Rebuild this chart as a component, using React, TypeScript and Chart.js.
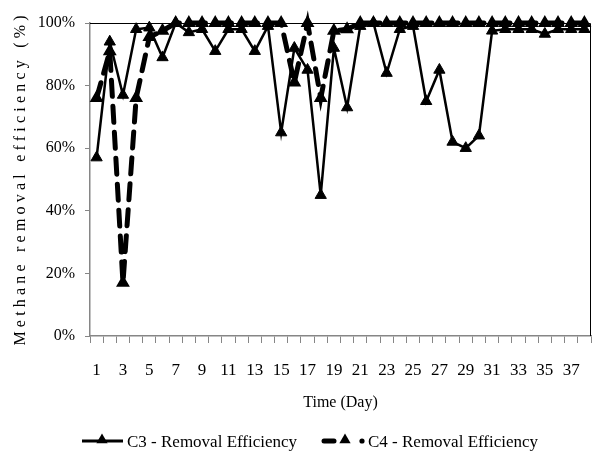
import React, { useEffect, useRef } from 'react';
import { Chart, registerables } from 'chart.js';

Chart.register(...registerables);

const days = ['1','2','3','4','5','6','7','8','9','10','11','12','13','14','15','16','17','18','19','20','21','22','23','24','25','26','27','28','29','30','31','32','33','34','35','36','37','38'];

const c3Values = [57, 94, 77, 98, 98.5, 89, 100, 97, 98, 91, 98, 98, 91, 99, 65, 92, 85, 45, 92, 73, 99, 100, 84, 98, 99, 75, 85, 62, 60, 64, 97.5, 98, 98, 98, 96.5, 98, 98, 98];

const c4Values = [76, 91, 17, 76, 95.5, 97.5, 100, 100, 100, 100, 100, 100, 100, 100, 100, 81, 100, 76, 97.5, 98, 100, 100, 100, 100, 100, 100, 100, 100, 100, 100, 100, 100, 100, 100, 100, 100, 100, 100];

const yTicks = [0, 20, 40, 60, 80, 100];

const seriesNames = ['C3 - Removal Efficiency', 'C4 - Removal Efficiency'];
const xTitle = 'Time (Day)';
const yTitle = 'Methane removal efficiency (%)';

const FONT = "'Liberation Serif', 'Times New Roman', serif";
const AXIS_GRAY = '#868686';

function tri(ctx: CanvasRenderingContext2D, x: number, y: number, r: number) {
  ctx.beginPath();
  ctx.moveTo(x, y - r);
  ctx.lineTo(x + r * Math.sin((2 * Math.PI) / 3), y - r * Math.cos((2 * Math.PI) / 3));
  ctx.lineTo(x + r * Math.sin((4 * Math.PI) / 3), y - r * Math.cos((4 * Math.PI) / 3));
  ctx.closePath();
  ctx.fill();
}

const decorPlugin = {
  id: 'decor',
  afterDraw(chart: any) {
    const ctx: CanvasRenderingContext2D = chart.ctx;
    const { left, right, top, bottom } = chart.chartArea;
    ctx.save();
    // plot border top & right
    ctx.strokeStyle = '#000';
    ctx.lineWidth = 1;
    ctx.beginPath();
    ctx.moveTo(left, top + 0.5);
    ctx.lineTo(right - 0.5, top + 0.5);
    ctx.lineTo(right - 0.5, bottom);
    ctx.stroke();

    // y title with letter spacing
    ctx.fillStyle = '#000';
    ctx.font = `16px ${FONT}`;
    const plain = ctx.measureText(yTitle).width;
    const targetLen = 330;
    const spacing = Math.max(0, (targetLen - plain) / (yTitle.length - 1));
    (ctx as any).letterSpacing = `${spacing.toFixed(2)}px`;
    ctx.translate(21, (top + bottom) / 2 + 1);
    ctx.rotate(-Math.PI / 2);
    ctx.textAlign = 'center';
    ctx.textBaseline = 'middle';
    ctx.fillText(yTitle, spacing / 2, 0);
    ctx.restore();

    // legend
    ctx.save();
    const ly = 441;
    ctx.fillStyle = '#000';
    ctx.strokeStyle = '#000';
    ctx.lineCap = 'butt';
    ctx.lineWidth = 3;
    ctx.beginPath();
    ctx.moveTo(82, ly);
    ctx.lineTo(123, ly);
    ctx.stroke();
    tri(ctx, 102, ly - 1, 6.5);

    ctx.lineCap = 'round';
    ctx.lineWidth = 5;
    ctx.beginPath();
    ctx.moveTo(324, ly);
    ctx.lineTo(334, ly);
    ctx.stroke();
    tri(ctx, 345, ly - 1, 6.5);
    ctx.beginPath();
    ctx.arc(362, ly, 2.6, 0, Math.PI * 2);
    ctx.fill();

    ctx.font = `17px ${FONT}`;
    ctx.textAlign = 'left';
    ctx.textBaseline = 'middle';
    ctx.fillText(seriesNames[0], 127, ly + 2);
    ctx.fillText(seriesNames[1], 368, ly + 2);
    ctx.restore();
  },
};

export default function App() {
  const ref = useRef<HTMLCanvasElement | null>(null);

  useEffect(() => {
    if (!ref.current) return;
    Chart.defaults.font.family = FONT;
    Chart.defaults.color = '#000';
    const chart = new Chart(ref.current, {
      type: 'line',
      data: {
        labels: days,
        datasets: [
          {
            label: seriesNames[0],
            data: c3Values,
            borderColor: '#000',
            backgroundColor: '#000',
            borderWidth: 2.5,
            pointStyle: 'triangle',
            pointRadius: 6.5,
            pointBackgroundColor: '#000',
            pointBorderColor: '#000',
            pointBorderWidth: 1,
            tension: 0,
            clip: false as any,
          },
          {
            label: seriesNames[1],
            data: c4Values,
            borderColor: '#000',
            backgroundColor: '#000',
            borderWidth: 5,
            borderDash: [16, 10],
            borderCapStyle: 'round',
            pointStyle: 'triangle',
            pointRadius: 6.5,
            pointBackgroundColor: '#000',
            pointBorderColor: '#000',
            pointBorderWidth: 1.5,
            tension: 0,
            clip: false as any,
          },
        ],
      },
      options: {
        animation: false,
        responsive: true,
        maintainAspectRatio: false,
        layout: { autoPadding: false, padding: { top: 23, right: 1, bottom: 38, left: 0 } },
        plugins: {
          legend: { display: false },
          tooltip: { enabled: false },
        },
        scales: {
          x: {
            type: 'category',
            offset: true,
            grid: {
              display: true,
              drawOnChartArea: false,
              drawTicks: true,
              tickLength: 7,
              color: AXIS_GRAY,
              offset: true,
            },
            border: { display: true, color: AXIS_GRAY, width: 1.5 },
            ticks: {
              autoSkip: false,
              maxRotation: 0,
              minRotation: 0,
              padding: 17,
              color: '#000',
              font: { size: 17, family: FONT },
              callback: (_v: any, i: number) => (i % 2 === 0 ? days[i] : ''),
            },
            title: {
              display: true,
              text: xTitle,
              color: '#000',
              font: { size: 16, family: FONT },
              padding: { top: 0, bottom: 4 },
            },
            afterFit: (scale: any) => {
              scale.height = 80;
              scale.paddingLeft = 0;
              scale.paddingRight = 0;
            },
          },
          y: {
            min: 0,
            max: 100,
            grid: {
              display: true,
              drawOnChartArea: false,
              drawTicks: true,
              tickLength: 5,
              color: AXIS_GRAY,
            },
            border: { display: true, color: AXIS_GRAY, width: 1.5 },
            afterBuildTicks: (scale: any) => {
              scale.ticks = yTicks.map((v) => ({ value: v }));
            },
            ticks: {
              padding: 10,
              color: '#000',
              font: { size: 16, family: FONT },
              callback: (v: any) => `${v}%`,
            },
            afterFit: (scale: any) => {
              scale.width = 90;
            },
          },
        },
      },
      plugins: [decorPlugin],
    });
    return () => chart.destroy();
  }, []);

  return (
    <div style={{ position: 'absolute', left: 0, top: 0, width: 592, height: 454, background: '#fff' }}>
      <canvas ref={ref} />
    </div>
  );
}
